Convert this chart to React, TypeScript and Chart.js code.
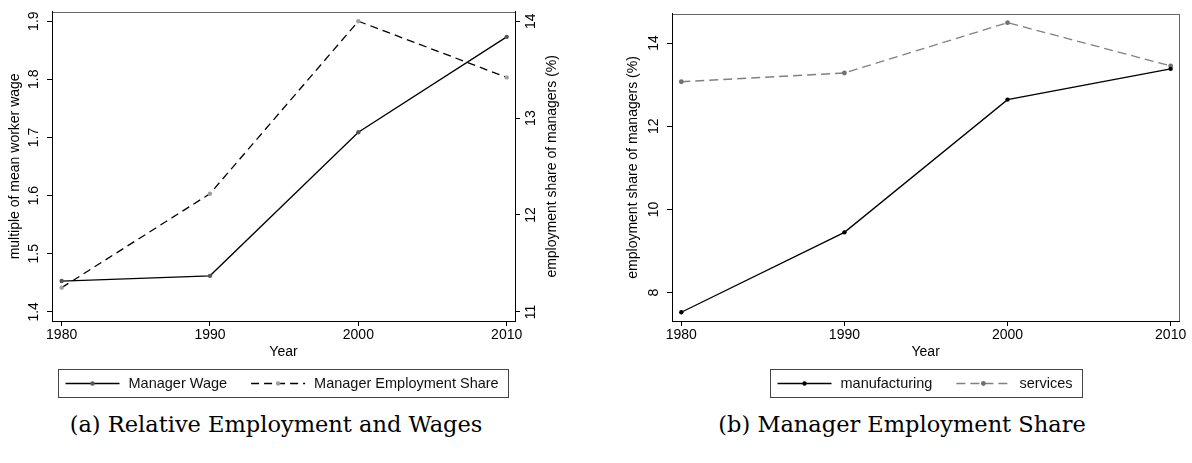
import React, { useEffect, useRef } from "react";
import { Chart, registerables } from "chart.js";

Chart.register(...registerables);

// ---------- data ----------
const years = [1980, 1990, 2000, 2010];
const managerWage = [1.453, 1.462, 1.709, 1.873];
const managerEmploymentShare = [11.25, 12.22, 14.0, 13.42];
const manufacturingShare = [7.53, 9.45, 12.64, 13.38];
const servicesShare = [13.07, 13.28, 14.49, 13.45];

const yearTicks = [1980, 1990, 2000, 2010];
const wageTicks = [1.4, 1.5, 1.6, 1.7, 1.8, 1.9];
const shareTicksA = [11, 12, 13, 14];
const shareTicksB = [8, 10, 12, 14];

const seriesLabelsA = ["Manager Wage", "Manager Employment Share"];
const seriesLabelsB = ["manufacturing", "services"];
const captionA = "(a) Relative Employment and Wages";
const captionB = "(b) Manager Employment Share";
const xTitle = "Year";
const wageTitle = "multiple of mean worker wage";
const shareTitle = "employment share of managers (%)";

// ---------- styling ----------
const SANS = '"Liberation Sans", Arial, Helvetica, sans-serif';
const tickFont = { family: SANS, size: 14 };
const titleFont = { family: SANS, size: 14 };

const frame = {
  id: "frame",
  beforeDraw(chart: any) {
    const { ctx, chartArea: a } = chart;
    ctx.save();
    ctx.strokeStyle = "#666";
    ctx.lineWidth = 1;
    ctx.strokeRect(
      Math.round(a.left) + 0.5,
      Math.round(a.top) + 0.5,
      Math.round(a.right - a.left),
      Math.round(a.bottom - a.top)
    );
    ctx.restore();
  },
};

const boxLegend = {
  id: "boxLegend",
  afterDraw(chart: any) {
    const { ctx, chartArea } = chart;
    ctx.save();
    ctx.font = `14.5px ${SANS}`;
    const sampleW = 54,
      textGap = 9,
      itemGap = 24,
      padL = 7,
      padR = 10;
    const items = chart.data.datasets.map((ds: any) => ({
      ds,
      w: ctx.measureText(ds.label).width,
    }));
    const total =
      padL +
      padR +
      items.reduce((s: number, it: any) => s + sampleW + textGap + it.w, 0) +
      itemGap * (items.length - 1);
    const cx = (chartArea.left + chartArea.right) / 2;
    const x0 = Math.round(cx - total / 2) + 0.5;
    const y0 = Math.round(chartArea.bottom) + 48.5;
    const h = 28;
    ctx.strokeStyle = "#444";
    ctx.lineWidth = 1;
    ctx.strokeRect(x0, y0, Math.round(total), h);
    let x = x0 + padL;
    const yc = y0 + h / 2;
    items.forEach(({ ds, w }: any) => {
      ctx.setLineDash(ds.borderDash || []);
      ctx.strokeStyle = ds.borderColor;
      ctx.lineWidth = ds.borderWidth;
      ctx.beginPath();
      ctx.moveTo(x, yc);
      ctx.lineTo(x + sampleW, yc);
      ctx.stroke();
      ctx.setLineDash([]);
      ctx.fillStyle = ds.pointBackgroundColor;
      ctx.beginPath();
      ctx.arc(x + sampleW / 2, yc, ds.pointRadius, 0, Math.PI * 2);
      ctx.fill();
      ctx.fillStyle = "#111";
      ctx.textBaseline = "middle";
      ctx.textAlign = "left";
      ctx.fillText(ds.label, x + sampleW + textGap, yc + 0.5);
      x += sampleW + textGap + w + itemGap;
    });
    ctx.restore();
  },
};

const rightTitle = {
  id: "rightTitle",
  afterDraw(chart: any, _args: any, opts: any) {
    const scale = chart.scales.y2;
    if (!scale || !opts || !opts.text) return;
    const { ctx, chartArea } = chart;
    ctx.save();
    ctx.font = `14px ${SANS}`;
    ctx.fillStyle = "#000";
    ctx.textAlign = "center";
    ctx.textBaseline = "middle";
    ctx.translate(scale.left + 37, (chartArea.top + chartArea.bottom) / 2);
    ctx.rotate(-Math.PI / 2);
    ctx.fillText(opts.text, 0, 0);
    ctx.restore();
  },
};

const axisLines = () => ({
  grid: {
    display: true,
    drawOnChartArea: false,
    drawTicks: true,
    tickLength: 5,
    color: "#000",
    lineWidth: 1,
  },
  border: { display: true, color: "#000", width: 1 },
});

const xScale = (min: number, max: number) => ({
  type: "linear",
  position: "bottom",
  min,
  max,
  afterBuildTicks: (s: any) => {
    s.ticks = yearTicks.map((value) => ({ value }));
  },
  afterFit: (s: any) => {
    s.height = 40;
  },
  ticks: {
    font: tickFont,
    color: "#000",
    padding: 1,
    maxRotation: 0,
    autoSkip: false,
    callback: (v: any) => String(v),
  },
  title: { display: true, text: xTitle, font: titleFont, color: "#000", padding: 0 },
  ...axisLines(),
});

const yScale = (
  position: string,
  min: number,
  max: number,
  tickValues: number[],
  digits: number,
  width: number,
  pad: number,
  title: string | null,
  titlePad: number
) => ({
  type: "linear",
  position,
  min,
  max,
  afterBuildTicks: (s: any) => {
    s.ticks = tickValues.map((value) => ({ value }));
  },
  afterFit: (s: any) => {
    s.width = width;
  },
  ticks: {
    font: tickFont,
    color: "#000",
    minRotation: 90,
    maxRotation: 90,
    crossAlign: "center",
    padding: pad,
    autoSkip: false,
    callback: (v: any) => Number(v).toFixed(digits),
  },
  title: title
    ? { display: true, text: title, font: titleFont, color: "#000", padding: { top: titlePad, bottom: 0 } }
    : { display: false },
  ...axisLines(),
});

const configA = (): any => ({
  type: "line",
  data: {
    datasets: [
      {
        label: seriesLabelsA[0],
        data: years.map((x, i) => ({ x, y: managerWage[i] })),
        yAxisID: "y",
        borderColor: "#000",
        borderWidth: 1.3,
        pointRadius: 2.2,
        pointBackgroundColor: "#555",
        pointBorderWidth: 0,
        tension: 0,
      },
      {
        label: seriesLabelsA[1],
        data: years.map((x, i) => ({ x, y: managerEmploymentShare[i] })),
        yAxisID: "y2",
        borderColor: "#000",
        borderWidth: 1.3,
        borderDash: [8, 5],
        pointRadius: 2.2,
        pointBackgroundColor: "#a0a0a0",
        pointBorderWidth: 0,
        tension: 0,
      },
    ],
  },
  options: {
    animation: false,
    responsive: false,
    devicePixelRatio: 1,
    events: [],
    layout: { padding: { top: 5, bottom: 39, left: 0, right: 0 } },
    scales: {
      x: xScale(1979.35, 2010.56),
      y: yScale("left", 1.3843, 1.9163, wageTicks, 1, 52, 3.3, wageTitle, 6.6),
      y2: yScale("right", 10.906, 14.098, shareTicksA, 0, 75, 3.2, null, 0),
    },
    plugins: {
      legend: { display: false },
      tooltip: { enabled: false },
      rightTitle: { text: shareTitle },
    },
  },
  plugins: [frame, boxLegend, rightTitle],
});

const configB = (): any => ({
  type: "line",
  data: {
    datasets: [
      {
        label: seriesLabelsB[0],
        data: years.map((x, i) => ({ x, y: manufacturingShare[i] })),
        yAxisID: "y",
        borderColor: "#000",
        borderWidth: 1.3,
        pointRadius: 2.2,
        pointBackgroundColor: "#000",
        pointBorderWidth: 0,
        tension: 0,
      },
      {
        label: seriesLabelsB[1],
        data: years.map((x, i) => ({ x, y: servicesShare[i] })),
        yAxisID: "y",
        borderColor: "#808080",
        borderWidth: 1.3,
        borderDash: [9, 5],
        pointRadius: 2.4,
        pointBackgroundColor: "#707070",
        pointBorderWidth: 0,
        tension: 0,
      },
    ],
  },
  options: {
    animation: false,
    responsive: false,
    devicePixelRatio: 1,
    events: [],
    layout: { padding: { top: 5, bottom: 39, left: 0, right: 12.7 } },
    scales: {
      x: xScale(1979.43, 2010.53),
      y: yScale("left", 7.32, 14.7, shareTicksB, 0, 72, 5.5, shareTitle, 24.6),
    },
    plugins: {
      legend: { display: false },
      tooltip: { enabled: false },
    },
  },
  plugins: [frame, boxLegend],
});

function ChartCanvas({ make, left, width, height }: any) {
  const ref = useRef<HTMLCanvasElement>(null);
  useEffect(() => {
    const chart = new Chart(ref.current as HTMLCanvasElement, make());
    return () => chart.destroy();
  }, [make]);
  return (
    <canvas
      ref={ref}
      width={width}
      height={height}
      style={{ position: "absolute", left, top: 0, width, height }}
    />
  );
}

const captionStyle: any = {
  position: "absolute",
  top: 413,
  textAlign: "center",
  fontFamily: '"DejaVu Serif", serif',
  fontSize: "22.5px",
  lineHeight: "22px",
  whiteSpace: "nowrap",
  color: "#000",
};

export default function App() {
  return (
    <div
      style={{
        position: "absolute",
        left: 0,
        top: 0,
        width: 1192,
        height: 463,
        background: "#fff",
        overflow: "hidden",
      }}
    >
      <ChartCanvas make={configA} left={0} width={590} height={400} />
      <ChartCanvas make={configB} left={600} width={592} height={400} />
      <div style={{ ...captionStyle, left: 26, width: 500 }}>{captionA}</div>
      <div style={{ ...captionStyle, left: 702, width: 400 }}>{captionB}</div>
    </div>
  );
}
